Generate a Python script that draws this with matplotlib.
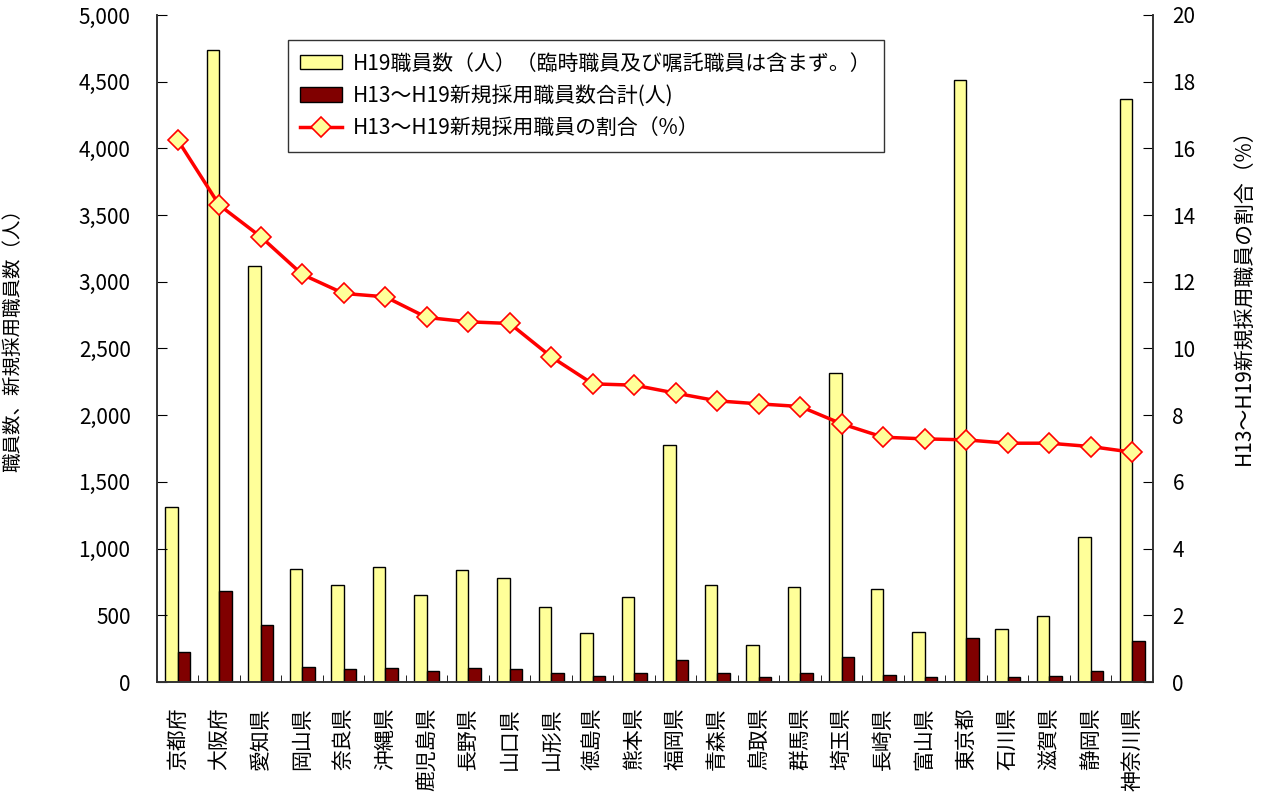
import numpy as np
import matplotlib
matplotlib.use('Agg')
import matplotlib.pyplot as plt
from matplotlib.ticker import FuncFormatter, MultipleLocator

plt.rcParams['font.family'] = ['Noto Sans CJK JP', 'DejaVu Sans']

# data
prefectures = ['京都府', '大阪府', '愛知県', '岡山県', '奈良県', '沖縄県', '鹿児島県', '長野県',
               '山口県', '山形県', '徳島県', '熊本県', '福岡県', '青森県', '鳥取県', '群馬県',
               '埼玉県', '長崎県', '富山県', '東京都', '石川県', '滋賀県', '静岡県', '神奈川県']
staff_h19 = [1310, 4740, 3120, 850, 730, 860, 650, 840, 780, 565, 365, 635,
             1775, 730, 280, 710, 2320, 695, 378, 4510, 400, 495, 1085, 4370]
new_hires = [225, 685, 425, 115, 95, 105, 85, 105, 95, 70, 45, 70,
             165, 70, 35, 70, 190, 55, 35, 330, 35, 45, 85, 310]
new_ratio = [16.25, 14.3, 13.35, 12.22, 11.65, 11.55, 10.93, 10.8, 10.75, 9.75, 8.94, 8.9,
             8.66, 8.43, 8.34, 8.26, 7.74, 7.34, 7.29, 7.26, 7.16, 7.16, 7.06, 6.89]

label_staff = 'H19職員数（人）（臨時職員及び嘱託職員は含まず。）'
label_new = 'H13～H19新規採用職員数合計(人)'
label_ratio = 'H13～H19新規採用職員の割合（%）'

x = np.arange(len(prefectures))
w = 0.3

fig = plt.figure(figsize=(12.63, 7.96), dpi=100)
ax = fig.add_axes([0.1243, 0.1432, 0.7886, 0.838])

b1 = ax.bar(x - w / 2, staff_h19, w, color='#FFFF99', edgecolor='black', linewidth=1, label=label_staff)
b2 = ax.bar(x + w / 2, new_hires, w, color='#800000', edgecolor='black', linewidth=1, label=label_new)

ax.set_xlim(-0.5, len(prefectures) - 0.5)
ax.set_ylim(0, 5000)
ax.yaxis.set_major_locator(MultipleLocator(500))
ax.yaxis.set_major_formatter(FuncFormatter(lambda v, p: f'{int(v):,}'))
ax.tick_params(axis='y', direction='in', length=7, labelsize=15, pad=19)
ax.set_ylabel('職員数、新規採用職員数（人）', fontsize=14)
ax.yaxis.set_label_coords(-0.1346, 0.52)

ax.set_xticks(x)
ax.set_xticklabels(prefectures, fontsize=15, rotation=90, ha='center', va='top')
ax.tick_params(axis='x', which='major', length=0, pad=18)
ax.set_xticks(np.arange(-0.5, len(prefectures)), minor=True)
ax.tick_params(axis='x', which='minor', direction='in', length=5)

ax2 = ax.twinx()
ln, = ax2.plot(x, new_ratio, color='red', linewidth=2.5, marker='D', markersize=10,
               markerfacecolor='#FFFF99', markeredgecolor='red', markeredgewidth=1.2, label=label_ratio)
ax2.set_ylim(0, 20)
ax2.yaxis.set_major_locator(MultipleLocator(2))
ax2.tick_params(axis='y', direction='in', length=7, labelsize=15, pad=14)
ax2.set_ylabel(label_ratio, fontsize=15)
ax2.yaxis.set_label_coords(1.080, 0.585)

for a in (ax, ax2):
    a.spines['top'].set_visible(False)
    for s in ('left', 'right', 'bottom'):
        a.spines[s].set_color('#333333')
        a.spines[s].set_linewidth(1.2)

leg = ax2.legend([b1, b2, ln], [label_staff, label_new, label_ratio], loc='upper left',
                 bbox_to_anchor=(0.1315, 0.9625), borderaxespad=0, fontsize=15, frameon=True,
                 fancybox=False, edgecolor='black', borderpad=0.6, handlelength=2.0,
                 handletextpad=0.5, labelspacing=0.5)
leg.get_frame().set_linewidth(1.0)

fig.savefig('out.png', dpi=100)
